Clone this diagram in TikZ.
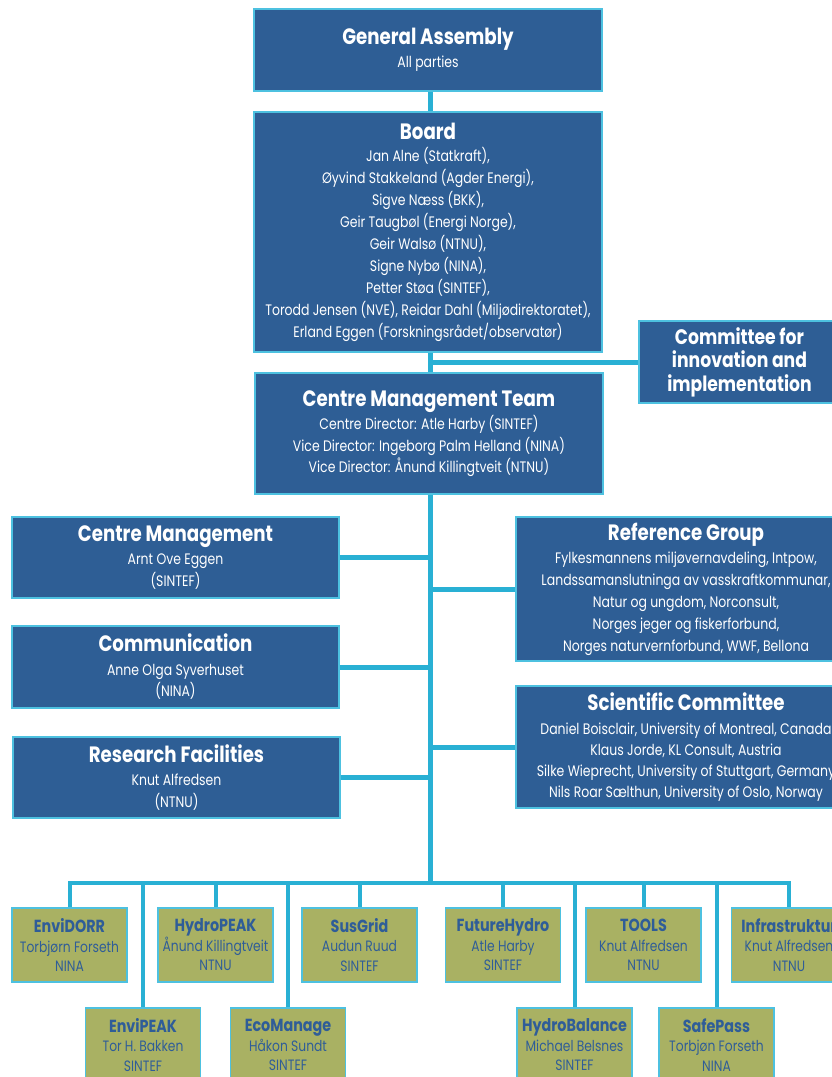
\documentclass[tikz,border=0pt]{standalone}
\usepackage{fontspec}
\setmainfont{Poppins}[FakeStretch=0.82]
\definecolor{boxblue}{HTML}{2E5E95}
\definecolor{olivefill}{HTML}{A9B163}
\definecolor{cyanline}{HTML}{29B0D4}
\definecolor{cyanborder}{HTML}{4DC1E0}
\definecolor{textblue}{HTML}{2F5D98}
\tikzset{
  bluebox/.style={draw=cyanborder, line width=1.5pt, fill=boxblue, text=white, align=center, inner sep=0pt,
    font=\fontsize{15.2}{21.5}\selectfont},
  olivebox/.style={draw=cyanborder, line width=1.5pt, fill=olivefill, text=textblue, align=center, inner sep=0pt,
    minimum width=115pt, minimum height=74pt, font=\fontsize{15}{19.5}\selectfont},
  link/.style={draw=cyanline, line width=5pt},
  droplink/.style={draw=cyanline, line width=4pt},
}
\newcommand\bigttl[1]{{\fontsize{22.2}{21.5}\selectfont\bfseries #1}}
\newcommand\smttl[1]{{\fontsize{17.5}{19.5}\selectfont\bfseries #1}}
\begin{document}
\begin{tikzpicture}[x=1pt,y=-1pt]
\path[use as bounding box] (0,0) rectangle (832,1077);
\clip (0,0) rectangle (832,1077);
\fill[white] (0,0) rectangle (832,1077);
\coordinate (tk) at (430,0);
\coordinate (bus) at (0,883);
\coordinate (j1) at (430,362);

% main boxes
\node[bluebox, minimum width=348pt, minimum height=82pt] (ga) at (428,50)
  {\bigttl{General Assembly}\\[1pt] All parties};
\node[bluebox, minimum width=348pt, minimum height=240pt, font=\fontsize{15.2}{22}\selectfont] (board) at (428,232)
  {\bigttl{Board}\\[0pt]
   Jan Alne (Statkraft),\\
   Øyvind Stakkeland (Agder Energi),\\
   Sigve Næss (BKK),\\
   Geir Taugbøl (Energi Norge),\\
   Geir Walsø (NTNU),\\
   Signe Nybø (NINA),\\
   Petter Støa (SINTEF),\\
   Torodd Jensen (NVE), Reidar Dahl (Miljødirektoratet),\\
   Erland Eggen (Forskningsrådet/observatør)};
\node[bluebox, minimum width=201pt, minimum height=82pt, font=\fontsize{21}{23.5}\selectfont\bfseries] (cii) at (739.5,362)
  {Committee for\\ innovation and\\ implementation};
\node[bluebox, minimum width=348pt, minimum height=121pt] (cmt) at (429,433.5)
  {\bigttl{Centre Management Team}\\[2pt]
   Centre Director: Atle Harby (SINTEF)\\
   Vice Director: Ingeborg Palm Helland (NINA)\\
   Vice Director: Ånund Killingtveit (NTNU)};

% left boxes
\node[bluebox, minimum width=327pt, minimum height=81pt] (cm) at (175.5,557.5)
  {\bigttl{Centre Management}\\[2pt] Arnt Ove Eggen\\ (SINTEF)};
\node[bluebox, minimum width=327pt, minimum height=82pt] (com) at (175.5,667)
  {\bigttl{Communication}\\[2pt] Anne Olga Syverhuset\\ (NINA)};
\node[bluebox, minimum width=327pt, minimum height=81pt] (rf) at (176.5,777.5)
  {\bigttl{Research Facilities}\\[2pt] Knut Alfredsen\\ (NTNU)};

% right boxes
\node[bluebox, minimum width=340pt, minimum height=144pt, font=\fontsize{15.2}{22}\selectfont] (ref) at (686,589)
  {\bigttl{Reference Group}\\[1pt]
   Fylkesmannens miljøvernavdeling, Intpow,\\
   Landssamanslutninga av vasskraftkommunar,\\
   Natur og ungdom, Norconsult,\\
   Norges jeger og fiskerforbund,\\
   Norges naturvernforbund, WWF, Bellona};
\node[bluebox, minimum width=340pt, minimum height=122pt, font=\fontsize{15.2}{20.8}\selectfont] (sci) at (686,747)
  {\bigttl{Scientific Committee}\\[3pt]
   Daniel Boisclair, University of Montreal, Canada\\
   Klaus Jorde, KL Consult, Austria\\
   Silke Wieprecht, University of Stuttgart, Germany\\
   Nils Roar Sælthun, University of Oslo, Norway};

% work packages, top row
\node[olivebox] (envidorr) at (69.5,945) {\smttl{EnviDORR}\\ Torbjørn Forseth\\ NINA};
\node[olivebox] (hydropeak) at (215.5,945) {\smttl{HydroPEAK}\\ Ånund Killingtveit\\ NTNU};
\node[olivebox] (susgrid) at (359.5,945) {\smttl{SusGrid}\\ Audun Ruud\\ SINTEF};
\node[olivebox] (futurehydro) at (503,945) {\smttl{FutureHydro}\\ Atle Harby\\ SINTEF};
\node[olivebox] (tools) at (643.5,945) {\smttl{TOOLS}\\ Knut Alfredsen\\ NTNU};
\node[olivebox] (infra) at (789,945) {\smttl{Infrastruktur}\\ Knut Alfredsen\\ NTNU};
% bottom row
\node[olivebox] (envipeak) at (143,1045) {\smttl{EnviPEAK}\\ Tor H. Bakken\\ SINTEF};
\node[olivebox] (ecomanage) at (288,1045) {\smttl{EcoManage}\\ Håkon Sundt\\ SINTEF};
\node[olivebox] (hydrobalance) at (574.5,1045) {\smttl{HydroBalance}\\ Michael Belsnes\\ SINTEF};
\node[olivebox] (safepass) at (716.5,1045) {\smttl{SafePass}\\ Torbjøn Forseth\\ NINA};

% connectors
\draw[link] (ga.south -| tk) -- (board.north -| tk);
\draw[link] (board.south -| tk) -- (cmt.north -| tk);
\draw[link] (j1) -- (cii.west);
\draw[link] (cmt.south -| tk) -- (bus -| tk);
\draw[link] (cm.east) -- (cm.east -| tk);
\draw[link] (com.east) -- (com.east -| tk);
\draw[link] (rf.east) -- (rf.east -| tk);
\draw[link] (ref.west) -- (ref.west -| tk);
\draw[link] (sci.west) -- (sci.west -| tk);
\draw[droplink] (envidorr.north) -- (bus -| envidorr.north) -- (bus -| infra.north) -- (infra.north);
\foreach \n in {hydropeak,susgrid,futurehydro,tools,envipeak,ecomanage,hydrobalance,safepass}
  \draw[droplink] (bus -| \n.north) -- (\n.north);
\end{tikzpicture}
\end{document}
